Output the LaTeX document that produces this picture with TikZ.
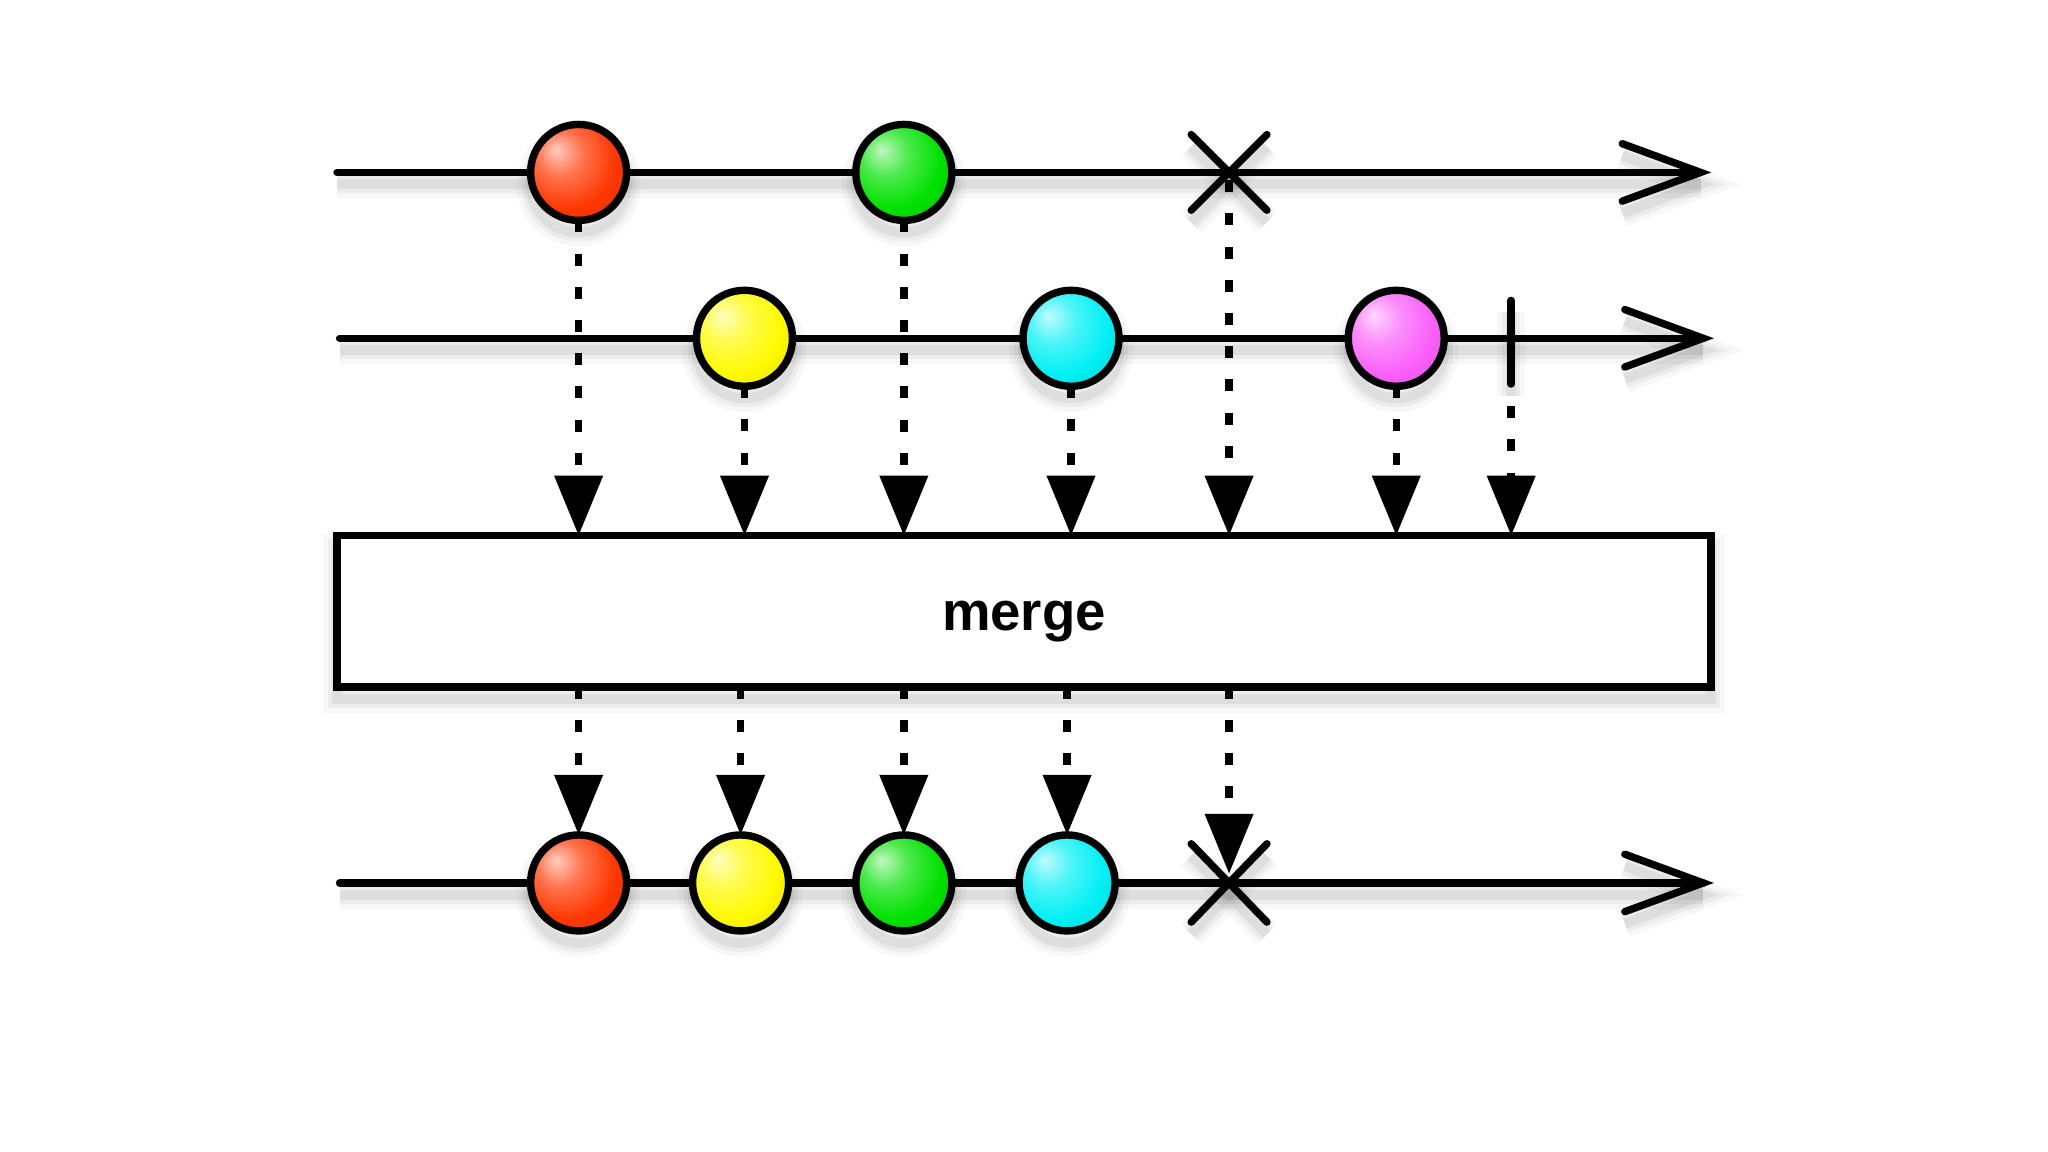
\documentclass[tikz,border=0pt]{standalone}
\usepackage{fontspec}
\setmainfont{Liberation Sans}
\usetikzlibrary{arrows.meta,calc}
\definecolor{bred}{RGB}{255,55,0}
\definecolor{bgreen}{RGB}{0,225,0}
\definecolor{byellow}{RGB}{255,250,0}
\definecolor{bcyan}{RGB}{0,240,245}
\definecolor{bmag}{RGB}{250,95,250}
\colorlet{mcol}{red}
\pgfdeclareradialshading[mcol]{marble}{\pgfpoint{-12bp}{12bp}}{%
  color(0bp)=(mcol!25!white);
  color(12bp)=(mcol!70!white);
  color(26bp)=(mcol);
  color(42bp)=(mcol!85!black);
  color(62bp)=(mcol!55!black)}
\tikzset{
  lw/.style={line width=3.7pt},
  softshadow/.style={
    preaction={draw=black, draw opacity=0.03, line width=14pt, transform canvas={yshift=-6pt}},
    preaction={draw=black, draw opacity=0.045, line width=9pt, transform canvas={yshift=-6pt}},
    preaction={draw=black, draw opacity=0.06, line width=5pt, transform canvas={yshift=-6pt}}},
  timeline/.style={lw, line cap=round, line join=miter, softshadow},
  marble/.style={circle, draw, lw, minimum size=48pt, inner sep=0pt, outer sep=0pt,
    /utils/exec={\colorlet{mcol}{#1}}, shading=marble, softshadow},
  dotarrow/.style={lw, dash pattern=on 6pt off 10.6pt,
    -{Triangle[length=30pt,width=23.5pt]}},
  opbox/.style={draw, lw, fill=white, minimum width=687pt, minimum height=75.6pt,
    inner sep=0pt, outer sep=0pt, softshadow, text height=19pt, text depth=0pt,
    font=\fontsize{27.3pt}{32pt}\selectfont\bfseries}
}
\begin{document}
\begin{tikzpicture}[x=0.6531pt, y=-0.6531pt]
\fill[white] (0,0) rectangle (1568,882);
\path[use as bounding box] (0,0) rectangle (1568,882);

% coordinates
\coordinate (s1) at (258,132);  \coordinate (e1) at (1302,132);
\coordinate (s2) at (260,259);  \coordinate (e2) at (1304,259);
\coordinate (s3) at (260,676);  \coordinate (e3) at (1304,676);
\coordinate (x1) at (941,132);
\coordinate (x3) at (941,676);
\coordinate (bar) at (1157,259);

% timelines
\draw[timeline] (s1) -- (e1);
\draw[timeline] ($(e1)+(-60,-22)$) -- (e1) -- ($(e1)+(-60,22)$);
\draw[timeline] (s2) -- (e2);
\draw[timeline] ($(e2)+(-60,-22)$) -- (e2) -- ($(e2)+(-60,22)$);
\draw[timeline] (s3) -- (e3);
\draw[timeline] ($(e3)+(-60,-22)$) -- (e3) -- ($(e3)+(-60,22)$);

% error marks and completion bar
\draw[timeline] ($(x1)+(-29,-29)$) -- ($(x1)+(29,29)$);
\draw[timeline] ($(x1)+(-29,29)$) -- ($(x1)+(29,-29)$);
\draw[timeline] ($(x3)+(-29,-30)$) -- ($(x3)+(29,30)$);
\draw[timeline] ($(x3)+(-29,30)$) -- ($(x3)+(29,-30)$);
\draw[timeline] ($(bar)+(0,-29)$) -- ($(bar)+(0,35)$);

% marbles
\node[marble=bred]    (r1) at (443,132) {};
\node[marble=bgreen]  (g1) at (692,132) {};
\node[marble=byellow] (y2) at (570,259) {};
\node[marble=bcyan]   (c2) at (820,259) {};
\node[marble=bmag]    (m2) at (1069,259) {};
\node[marble=bred]    (r3) at (443,676) {};
\node[marble=byellow] (y3) at (567,676) {};
\node[marble=bgreen]  (g3) at (692,676) {};
\node[marble=bcyan]   (c3) at (817,676) {};

% operator box
\node[opbox] (box) at (784,468) {merge};

% arrows into the operator
\draw[dotarrow] (r1.south) -- (r1.south |- box.north);
\draw[dotarrow] (y2.south) -- (y2.south |- box.north);
\draw[dotarrow] (g1.south) -- (g1.south |- box.north);
\draw[dotarrow] (c2.south) -- (c2.south |- box.north);
\draw[dotarrow] ($(x1)+(0,6)$) -- (x1 |- box.north);
\draw[dotarrow] (m2.south) -- (m2.south |- box.north);
\draw[dotarrow] ($(bar)+(0,52)$) -- (bar |- box.north);

% arrows out of the operator
\draw[dotarrow] (r3.north |- box.south) -- (r3.north);
\draw[dotarrow] (y3.north |- box.south) -- (y3.north);
\draw[dotarrow] (g3.north |- box.south) -- (g3.north);
\draw[dotarrow] (c3.north |- box.south) -- (c3.north);
\draw[dotarrow] (x3 |- box.south) -- ($(x3)+(0,-7)$);
\end{tikzpicture}
\end{document}
